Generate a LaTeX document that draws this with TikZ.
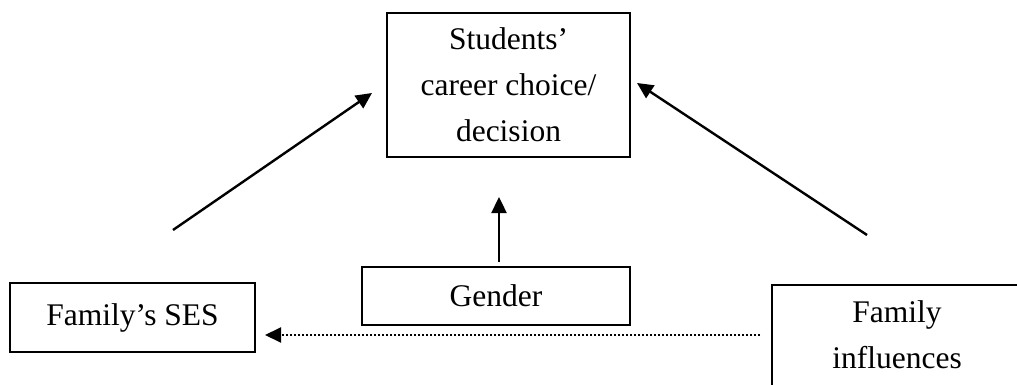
\documentclass[tikz,border=0pt]{standalone}
\usepackage{fontspec}
\setmainfont{Liberation Serif}
\usetikzlibrary{arrows.meta}
\begin{document}
\begin{tikzpicture}[x=1pt,y=-1pt,
  box/.style={draw,line width=2pt,inner sep=0pt,font=\fontsize{31.5}{46}\selectfont,align=center},
  txt/.style={inner sep=0pt,font=\fontsize{31.5}{46}\selectfont,align=center},
  arr/.style={line width=2.4pt,-{Triangle[length=16pt,width=15pt]}},
  dotarr/.style={line width=2pt,dotted,-{Triangle[length=16pt,width=15pt]}}]
\useasboundingbox (0,0) rectangle (1017,385);
\node[box,minimum width=243pt,minimum height=144pt] (career) at (508.5,85) {Students’\\career choice/\\decision};
\node[box,minimum width=245pt,minimum height=69pt] (ses) at (132.5,317.5) {Family’s SES};
\node[box,minimum width=268pt,minimum height=58pt] (gender) at (496,296) {Gender};
\node[txt] (fam) at (897,335) {Family\\influences};
\draw[line width=2pt] (1020,285) -- (772,285) -- (772,390);
\coordinate (a1) at (173,230);
\coordinate (a2) at (372,93);
\coordinate (b1) at (867,235);
\coordinate (b2) at (637,83);
\coordinate (g1) at (499,262);
\coordinate (g2) at (499,197);
\coordinate (d1) at (760,335);
\coordinate (d2) at (265,335);
\draw[arr] (a1) -- (a2);
\draw[arr] (b1) -- (b2);
\draw[arr] (g1) -- (g2);
\draw[dotarr] (d1) -- (d2);
\end{tikzpicture}
\end{document}
